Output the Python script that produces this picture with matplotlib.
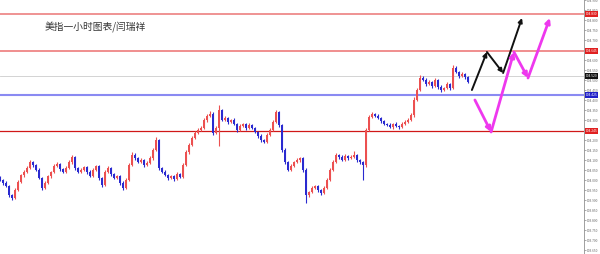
import matplotlib
matplotlib.use("Agg")
import matplotlib.pyplot as plt
from matplotlib.transforms import blended_transform_factory
import numpy as np

plt.rcParams['font.family'] = ['Noto Sans CJK SC', 'DejaVu Sans']

title = "美指一小时图表/闫瑞祥"

closes = [
    104.000, 103.985, 103.970, 103.925, 103.910, 103.950, 103.990, 104.025, 104.040, 104.060,
    104.090, 104.075, 104.050, 104.010, 103.960, 103.985, 104.020, 104.040, 104.070, 104.080,
    104.055, 104.040, 104.060, 104.090, 104.115, 104.060, 104.040, 104.050, 104.065, 104.040,
    104.020, 104.050, 104.070, 104.010, 103.975, 104.040, 104.060, 104.030, 104.010, 104.020,
    103.985, 103.960, 104.000, 104.075, 104.125, 104.110, 104.090, 104.100, 104.075, 104.085,
    104.110, 104.150, 104.200, 104.060, 104.040, 104.025, 104.010, 104.020, 104.005, 104.030,
    104.015, 104.075, 104.140, 104.175, 104.210, 104.235, 104.250, 104.260, 104.300, 104.320,
    104.330, 104.235, 104.260, 104.350, 104.300, 104.310, 104.290, 104.300, 104.280, 104.250,
    104.270, 104.280, 104.260, 104.275, 104.260, 104.240, 104.220, 104.200, 104.190, 104.225,
    104.250, 104.290, 104.340, 104.275, 104.150, 104.090, 104.050, 104.070, 104.090, 104.100,
    104.110, 104.050, 103.925, 103.940, 103.960, 103.970, 103.950, 103.935, 103.960, 104.000,
    104.050, 104.090, 104.125, 104.115, 104.100, 104.120, 104.110, 104.115, 104.125, 104.100,
    104.090, 104.075, 104.250, 104.315, 104.330, 104.320, 104.310, 104.295, 104.280, 104.275,
    104.265, 104.280, 104.270, 104.265, 104.280, 104.290, 104.300, 104.325, 104.400, 104.450,
    104.510, 104.500, 104.480, 104.490, 104.470, 104.500, 104.465, 104.450, 104.460, 104.480,
    104.460, 104.560, 104.540, 104.520, 104.530, 104.515, 104.490,
]
# wick extents above / below the body, in thousandths of a point
wick_up = [
    8, 6, 10, 5, 7, 9, 12, 6, 8, 10, 12, 6, 5, 8, 4, 9, 7, 6, 10, 8,
    5, 7, 9, 11, 12, 6, 5, 8, 7, 6, 9, 10, 7, 5, 6, 12, 8, 6, 5, 7,
    6, 8, 10, 12, 14, 8, 6, 9, 7, 8, 10, 12, 15, 6, 5, 8, 6, 7, 5, 9,
    6, 12, 10, 9, 11, 8, 10, 9, 12, 10, 14, 8, 10, 25, 6, 8, 7, 6, 9, 5,
    8, 7, 6, 9, 5, 6, 7, 8, 6, 9, 10, 12, 12, 6, 5, 8, 6, 9, 7, 8,
    6, 5, 8, 7, 9, 6, 7, 5, 8, 10, 12, 9, 10, 6, 8, 10, 7, 9, 20, 6,
    5, 6, 12, 10, 12, 6, 8, 7, 6, 5, 8, 7, 9, 6, 10, 8, 9, 10, 14, 12,
    15, 12, 8, 9, 6, 10, 7, 8, 6, 9, 7, 15, 8, 6, 9, 7, 6,
]
wick_dn = [
    6, 8, 5, 10, 8, 6, 5, 7, 9, 6, 5, 8, 7, 6, 12, 5, 6, 8, 7, 5,
    9, 7, 6, 5, 8, 10, 6, 7, 5, 8, 6, 5, 7, 9, 12, 6, 5, 8, 7, 6,
    9, 10, 6, 5, 6, 8, 7, 5, 9, 6, 5, 8, 6, 10, 7, 5, 8, 6, 9, 5,
    7, 6, 5, 8, 6, 7, 5, 6, 7, 8, 6, 9, 7, 90, 6, 5, 8, 7, 6, 9,
    5, 6, 8, 7, 6, 5, 8, 9, 7, 6, 5, 6, 7, 8, 9, 10, 6, 5, 7, 6,
    8, 9, 40, 8, 6, 7, 9, 8, 6, 5, 7, 6, 5, 8, 7, 6, 9, 7, 6, 8,
    9, 75, 10, 6, 5, 7, 6, 8, 5, 7, 6, 8, 7, 9, 6, 5, 7, 6, 8, 6,
    5, 7, 8, 6, 9, 5, 8, 10, 7, 6, 8, 6, 7, 9, 6, 8, 7,
]

# horizontal levels
level_prices = [104.830, 104.645, 104.425, 104.245]
level_colors = ['#ec8080', '#ec7070', '#8a8af2', '#d01818']
level_widths = [1.2, 1.1, 1.5, 0.9]
current_price = 104.520

# forecast paths (candle index, price)
black_x = [157.3, 162.3, 167.7, 174.0]
black_y = [104.450, 104.640, 104.535, 104.810]
pink_x = [158.3, 163.7, 171.3, 176.0, 183.3]
pink_y = [104.400, 104.240, 104.640, 104.510, 104.810]

ymin, ymax = 103.630, 104.900
tick_vals = np.round(np.arange(103.650, 104.901, 0.05), 3)

W, H = 600, 254
fig = plt.figure(figsize=(W / 100, H / 100), dpi=100)
axw = 584 / W
ax = fig.add_axes([0, 0, axw, 1])
ax.set_xlim(0, 584 / 3)
ax.set_ylim(ymin, ymax)

c = np.array(closes)
o = np.concatenate([[c[0] + 0.01], c[:-1]])
hi = np.maximum(o, c) + np.array(wick_up[:len(c)]) / 1000
lo = np.minimum(o, c) - np.array(wick_dn[:len(c)]) / 1000
x = np.arange(len(c))
up = c >= o
col = np.where(up, '#ec5050', '#2a2ad0')

ax.axhline(current_price, color='#cccccc', lw=0.6, zorder=1)
for p, cl, lw in zip(level_prices, level_colors, level_widths):
    ax.axhline(p, color=cl, lw=lw, zorder=2)

ax.vlines(x, lo, hi, colors=col, lw=0.8, zorder=3)
body_h = np.abs(c - o)
body_h = np.maximum(body_h, 0.002)
ax.bar(x, body_h, bottom=np.minimum(o, c), width=0.7, color=col, lw=0, zorder=3)

def draw_path(xs, ys, color, lw, ms):
    for i in range(len(xs) - 1):
        ax.annotate('', xy=(xs[i + 1], ys[i + 1]), xytext=(xs[i], ys[i]),
                    arrowprops=dict(arrowstyle='-|>', color=color, lw=lw,
                                    mutation_scale=ms, shrinkA=0, shrinkB=0),
                    zorder=5)

draw_path(black_x, black_y, '#111111', 1.4, 6)
draw_path(pink_x, pink_y, '#ee38ee', 2.0, 7)

for s in ['left', 'top', 'bottom']:
    ax.spines[s].set_visible(False)
ax.spines['right'].set_color('#909090')
ax.spines['right'].set_linewidth(0.6)
ax.set_xticks([])
ax.yaxis.tick_right()
ax.set_yticks(tick_vals)
ax.set_yticklabels([f"{v:.3f}" for v in tick_vals])
ax.tick_params(axis='y', labelsize=2.3, length=1.2, width=0.4, pad=0.8,
               colors='#666666', labelcolor='#666666')

trans = blended_transform_factory(ax.transAxes, ax.transData)
box_specs = [(level_prices[0], '#e02020'), (level_prices[1], '#e02020'),
             (current_price, '#111111'), (level_prices[2], '#2020c8'),
             (level_prices[3], '#e02020')]
for p, bc in box_specs:
    ax.text(1.003, p, f"{p:.3f}", transform=trans, fontsize=2.3, color='white',
            va='center', ha='left', zorder=6, clip_on=False,
            bbox=dict(boxstyle='square,pad=0.2', fc=bc, ec='none'))

fig.text(45 / W, 1 - 27 / H, title, fontsize=7, color='#333333', va='center', ha='left')

fig.savefig('out.png', dpi=100)
